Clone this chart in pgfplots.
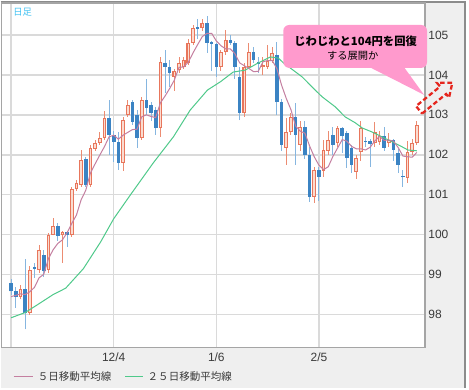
\documentclass[border=0pt]{standalone}
\usepackage{pgfplots}
\pgfplotsset{compat=1.18}
\usepackage{pgfplotstable}
\usepackage{fontspec}
\setmainfont{Liberation Sans}
\newfontfamily\jp{Noto Sans CJK JP}
\definecolor{upline}{HTML}{E8765C}
\definecolor{upfill}{HTML}{FBDCD0}
\definecolor{upwick}{HTML}{EC8C72}
\definecolor{dnbody}{HTML}{3B83C3}
\definecolor{dnwick}{HTML}{86B6E0}
\definecolor{maA}{HTML}{C47FA0}
\definecolor{maB}{HTML}{4FC98A}
\definecolor{gridc}{HTML}{DADADA}
\definecolor{framec}{HTML}{A5A5A5}
\definecolor{outer}{HTML}{8C8C8C}
\definecolor{panel}{HTML}{EFEFEF}
\definecolor{callout}{HTML}{FF9ACD}
\definecolor{arrowred}{HTML}{E5261E}
\definecolor{daycyan}{HTML}{45C3F2}
\definecolor{txt}{HTML}{3A3A3A}

\pgfplotsset{candle/.style={only marks, mark=*, mark size=0pt,
  mark options={draw opacity=0, fill opacity=0},
  error bars/.cd, y dir=plus, y explicit, error mark=none}}

% rising candles
\pgfplotstableread{
i o h l c
2 98.45 98.73 98.38 98.65
4 98.05 99.22 98.00 99.12
6 99.12 99.75 99.05 99.62
8 99.12 100.05 99.05 100.00
9 100.00 100.42 99.98 100.22
11 99.98 100.10 99.30 100.07
13 99.98 101.20 99.95 101.15
14 101.15 101.37 101.10 101.30
15 101.25 102.12 101.20 101.87
17 101.25 102.25 101.20 102.17
18 102.15 102.37 102.10 102.30
19 102.30 102.57 102.25 102.42
20 102.42 103.10 102.38 102.92
24 101.80 102.95 101.60 102.87
25 103.00 103.37 102.95 103.25
28 102.42 103.45 102.38 103.37
32 102.67 104.45 102.45 104.32
35 103.95 104.15 103.60 104.10
36 104.12 104.45 104.05 104.30
37 104.20 104.45 104.15 104.37
38 104.30 104.90 104.25 104.80
39 104.80 105.25 104.75 105.17
41 105.17 105.40 105.10 105.30
45 104.20 104.62 104.10 104.57
46 104.57 105.12 104.50 104.88
50 103.05 104.30 102.95 104.20
51 104.20 104.80 104.15 104.57
54 104.20 104.45 104.00 104.25
55 104.20 104.75 104.15 104.35
56 104.35 104.70 104.30 104.55
59 102.18 102.92 101.75 102.57
60 102.57 103.05 102.50 102.95
62 102.25 102.85 102.10 102.70
65 100.95 101.70 100.80 101.62
67 101.60 102.38 101.45 102.12
68 102.10 102.60 102.00 102.38
70 102.30 102.72 102.20 102.67
74 101.58 102.00 101.40 101.92
75 102.07 102.85 101.85 102.67
78 102.30 102.82 102.20 102.57
79 102.32 102.60 102.25 102.47
81 102.30 102.55 102.20 102.37
85 101.42 102.35 101.30 102.07
86 102.07 102.40 102.00 102.30
87 102.30 102.85 102.25 102.75
}\up

% falling candles
\pgfplotstableread{
i o h l c
0 98.80 98.88 98.50 98.58
1 98.60 98.68 98.17 98.45
3 98.65 99.40 97.63 98.05
5 99.20 99.30 98.92 99.15
7 99.50 99.62 98.95 99.10
10 100.22 100.30 99.85 99.97
12 100.07 100.10 99.70 99.98
16 101.90 101.95 101.20 101.25
21 102.92 103.37 102.00 102.50
22 102.50 102.60 101.82 102.33
23 102.33 102.57 101.62 101.80
26 103.32 103.37 102.75 102.83
27 103.00 103.12 102.17 102.42
29 103.37 103.90 103.00 103.17
30 103.25 103.32 102.85 103.05
31 103.12 103.20 102.50 102.67
33 104.30 104.62 103.55 104.20
34 104.20 104.37 103.70 104.05
40 105.20 105.40 104.90 105.15
42 105.30 105.47 104.55 104.80
43 104.82 104.85 104.10 104.78
44 104.78 104.80 103.95 104.20
47 104.88 105.00 104.75 104.80
48 104.80 104.85 103.90 104.20
49 103.95 104.20 102.87 103.05
52 104.57 104.70 104.30 104.37
53 104.32 104.45 104.05 104.28
57 104.50 104.82 103.00 103.32
58 103.32 103.40 102.10 102.25
61 102.95 103.30 101.75 102.50
63 102.70 102.85 101.90 102.00
64 102.00 102.20 100.82 100.95
66 101.62 101.70 100.85 101.45
69 102.50 102.70 102.00 102.25
71 102.67 102.70 102.05 102.47
72 102.55 102.60 101.67 101.92
73 102.17 102.25 101.55 101.75
76 102.35 102.45 102.20 102.32
77 102.35 102.40 101.70 102.27
80 102.47 102.70 102.10 102.17
82 102.37 102.40 101.85 102.12
83 102.05 102.15 101.55 101.75
84 101.47 101.62 101.20 101.44
}\dn

% 5-day moving average
\pgfplotstableread{
i m
0 98.45
1 98.48
2 98.52
3 98.50
4 98.57
5 98.68
6 98.92
7 99.01
8 99.40
9 99.62
10 99.78
11 99.87
12 100.05
13 100.28
14 100.49
15 100.87
16 101.11
17 101.54
18 101.77
19 101.99
20 102.20
21 102.45
22 102.49
23 102.39
24 102.49
25 102.56
26 102.63
27 102.64
28 102.95
29 103.00
30 102.96
31 102.93
32 103.30
33 103.47
34 103.66
35 103.87
36 104.19
37 104.20
38 104.32
39 104.55
40 104.76
41 104.96
42 105.04
43 105.04
44 104.85
45 104.73
46 104.65
47 104.65
48 104.53
49 104.30
50 104.23
51 104.16
52 104.08
53 104.09
54 104.33
55 104.36
56 104.36
57 104.15
58 103.74
59 103.41
60 103.13
61 102.72
62 102.59
63 102.54
64 102.22
65 101.95
66 101.74
67 101.63
68 101.70
69 101.96
70 102.17
71 102.38
72 102.34
73 102.21
74 102.15
75 102.15
76 102.12
77 102.19
78 102.35
79 102.46
80 102.36
81 102.37
82 102.34
83 102.18
84 101.97
85 101.95
86 101.94
87 102.06
}\maFive

% 25-day moving average
\pgfplotstableread{
i m
0 97.92
3 98.05
5.7 98.25
9 98.50
11.7 98.66
15.5 99.15
19.2 99.82
22 100.40
25.6 101.00
30.5 101.80
34.8 102.45
38.4 103.12
42.1 103.62
44.9 103.83
47.6 104.07
50.2 104.12
53 104.30
55.6 104.45
57.3 104.42
58.4 104.30
62.4 103.95
65.2 103.62
66.7 103.45
69.5 103.20
71.6 102.95
73.8 102.80
75.3 102.67
77.4 102.57
79.5 102.45
83 102.25
85.1 102.12
87 102.10
}\maTwentyFive

\begin{document}
\begin{tikzpicture}
% background in pixel units (origin top-left, y downwards)
\begin{scope}[x=0.75pt,y=-0.75pt,shift={(-0.75pt,261pt)}]
  \fill[white] (0,0) rectangle (469,389);
  \fill[panel] (0,2) rectangle (465,389);
  \draw[outer, line width=1pt] (0,2) -- (465,2) -- (465,389);
  \fill[white] (1,3) rectangle (425,348);
\end{scope}

\begin{axis}[
  at={(0,0)}, anchor=south west,
  scale only axis, width=318pt, height=258.75pt,
  xmin=-2.03, xmax=88.76, ymin=97.175, ymax=105.8,
  xtick={0,22,44,66}, xticklabels={,12/4,1/6,2/5},
  ytick={98,99,100,101,102,103,104,105},
  yticklabel pos=right,
  major tick length=0pt,
  xmajorgrids, ymajorgrids,
  major grid style={gridc, line width=1.1pt},
  axis line style={framec, line width=1.1pt},
  tick label style={font=\fontsize{9}{10}\selectfont, text=txt},
  /pgf/number format/assume math mode=true,
  yticklabel style={anchor=west, inner sep=0pt, xshift=2.3pt},
  xticklabel style={anchor=north, inner sep=0pt, yshift=-4.1pt},
]
% wicks
\addplot[candle, error bar style={dnwick, line width=0.75pt}]
  table[x=i, y=l, y error plus expr=\thisrow{h}-\thisrow{l}] {\dn};
\addplot[candle, error bar style={upwick, line width=0.75pt}]
  table[x=i, y=l, y error plus expr=\thisrow{h}-\thisrow{l}] {\up};
% bodies
\addplot[candle, error bar style={dnbody, line width=2.7pt}]
  table[x=i, y=c, y error plus expr=\thisrow{o}-\thisrow{c}] {\dn};
\addplot[candle, error bar style={upline, line width=2.8pt}]
  table[x=i, y=o, y error plus expr=\thisrow{c}-\thisrow{o}] {\up};
\addplot[candle, error bar style={upfill, line width=1.2pt, shorten <=0.75pt, shorten >=0.75pt}]
  table[x=i, y=o, y error plus expr=\thisrow{c}-\thisrow{o}] {\up};
% moving averages
\addplot[maB, line width=0.75pt, mark=none] table[x=i, y=m] {\maTwentyFive};
\addplot[maA, line width=0.75pt, mark=none] table[x=i, y=m] {\maFive};
\end{axis}

% annotations in pixel units
\begin{scope}[x=0.75pt,y=-0.75pt,shift={(-0.75pt,261pt)}]
  \node[text=daycyan, font=\jp\fontsize{7}{8}\selectfont, inner sep=0pt] at (22,12.5) {日足};
  % callout
  \fill[callout, rounded corners=4.5pt] (283,25) rectangle (427,68);
  \fill[callout] (367,66) -- (424,95) -- (403,66) -- cycle;
  \node[font=\jp\bfseries\fontsize{8.5}{10}\selectfont, inner sep=0pt] at (355.5,41.5) {じわじわと104円を回復};
  \node[font=\jp\fontsize{7.7}{9}\selectfont, inner sep=0pt] at (352.5,55.5) {する展開か};
  % legend
  \draw[maA, line width=0.75pt] (13,377) -- (32,377);
  \node[anchor=west, inner sep=0pt, text=txt, font=\jp\fontsize{7.9}{9}\selectfont] at (37,377) {５日移動平均線};
  \draw[maB, line width=0.75pt] (125,377) -- (143,377);
  \node[anchor=west, inner sep=0pt, text=txt, font=\jp\fontsize{7.9}{9}\selectfont] at (147,377) {２５日移動平均線};
\end{scope}
% dashed block arrow
\begin{scope}[shift={(313.5pt,178.5pt)}, rotate=39.2, x=0.75pt, y=0.75pt]
  \draw[arrowred, line width=1.7pt, dash pattern=on 3.5pt off 2pt, line join=miter]
    (0,-4.8) -- (31,-4.8) -- (31,-9.5) -- (43,0) -- (31,9.5) -- (31,4.8) -- (0,4.8) -- cycle;
\end{scope}
\end{tikzpicture}
\end{document}
